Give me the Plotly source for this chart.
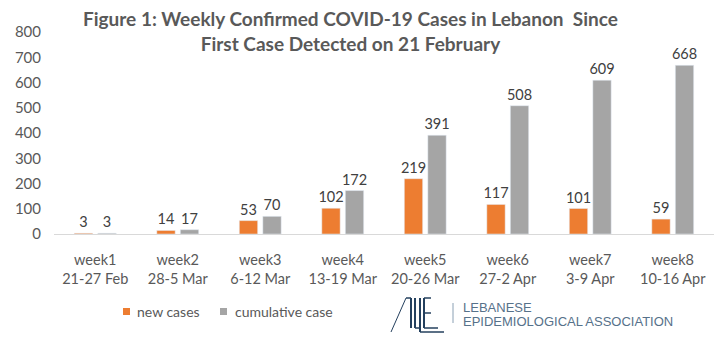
import plotly.graph_objects as go

weeks = ["week1", "week2", "week3", "week4", "week5", "week6", "week7", "week8"]
date_ranges = ["21-27 Feb", "28-5 Mar", "6-12 Mar", "13-19 Mar", "20-26 Mar", "27-2 Apr", "3-9 Apr", "10-16 Apr"]
new_cases = [3, 14, 53, 102, 219, 117, 101, 59]
cumulative_cases = [3, 17, 70, 172, 391, 508, 609, 668]
y_ticks = [0, 100, 200, 300, 400, 500, 600, 700, 800]
series_names = ["new cases", "cumulative case"]
series_colors = ["#ED7D31", "#A5A5A5"]

W, H = 720, 349
L, R, T, B = 54, 6, 32, 115
FONT = "Lato"
TXT = "#595959"

def px(x):
    return (x - L) / (W - L - R)

def py(y):
    return (H - B - y) / (H - T - B)

fig = go.Figure()
for name, vals, col in zip(series_names, [new_cases, cumulative_cases], series_colors):
    fig.add_trace(go.Bar(
        x=weeks, y=vals, name=name, marker_color=col,
        text=vals, textposition="outside", cliponaxis=False, constraintext="none",
        textfont=dict(family=FONT, size=14.5, color="#404040"),
        showlegend=False,
    ))

tick_text = [f"{w}<br>{d}" for w, d in zip(weeks, date_ranges)]

annotations = []
shapes = []

# Title
annotations.append(dict(
    x=px(350), xref="paper", y=py(31), yref="paper",
    text="<b>Figure 1: Weekly Confirmed COVID-19 Cases in Lebanon  Since<br>First Case Detected on 21 February</b>",
    showarrow=False, font=dict(family=FONT, size=19, color=TXT), align="center",
    xanchor="center", yanchor="middle"))

# Manual legend
legend_pos = [(123, 135), (220, 233)]
for (sx, tx), name, col in zip(legend_pos, series_names, series_colors):
    shapes.append(dict(type="rect", xref="paper", yref="paper",
                       x0=px(sx), x1=px(sx + 7), y0=py(308), y1=py(315),
                       fillcolor=col, line=dict(width=0)))
    annotations.append(dict(x=px(tx), xref="paper", y=py(311), yref="paper", text=name,
                            showarrow=False, font=dict(family=FONT, size=14, color=TXT),
                            xanchor="left", yanchor="middle"))

# Logo text
LOGO_TXT = "#56718a"
annotations.append(dict(x=px(461), xref="paper", y=py(307), yref="paper", text="LEBANESE",
                        showarrow=False, font=dict(family="Liberation Sans", size=13, color=LOGO_TXT),
                        xanchor="left", yanchor="middle"))
annotations.append(dict(x=px(461), xref="paper", y=py(321), yref="paper", text="EPIDEMIOLOGICAL ASSOCIATION",
                        showarrow=False, font=dict(family="Liberation Sans", size=13, color=LOGO_TXT),
                        xanchor="left", yanchor="middle"))

NAVY = "#24405e"
def line(x0, y0, x1, y1, color=NAVY, w=1.5):
    shapes.append(dict(type="line", xref="paper", yref="paper",
                       x0=px(x0), y0=py(y0), x1=px(x1), y1=py(y1),
                       line=dict(color=color, width=w)))
# stylized A
line(391, 332, 406, 298, w=1)
line(406, 298, 411, 298)
line(411, 298, 411, 328, w=2)
line(415, 298, 415, 328, w=2)
# L
line(415, 328, 419, 328)
line(420, 298, 420, 332, w=2)
line(420, 332, 444, 332)
# E
line(424, 298, 424, 328, w=2)
line(424, 298, 431, 298)
line(424, 313, 431, 313)
line(424, 328, 438, 328)
# separator
line(453, 303, 453, 323, color="#8aa0b4", w=1)

fig.update_layout(
    width=W, height=H,
    margin=dict(l=L, r=R, t=T, b=B),
    paper_bgcolor="white", plot_bgcolor="white",
    barmode="group", bargap=0.43, bargroupgap=0.22,
    showlegend=False,
    xaxis=dict(showgrid=False, showline=True, linecolor="#D9D9D9", linewidth=1,
               ticks="", tickvals=weeks, ticktext=tick_text,
               tickfont=dict(family=FONT, size=14.5, color=TXT), ticklabelstandoff=13),
    yaxis=dict(range=[0, 800], tickvals=y_ticks, showgrid=False, zeroline=False,
               showline=False, ticks="", tickfont=dict(family=FONT, size=15, color=TXT),
               ticklabelstandoff=12),
    annotations=annotations,
    shapes=shapes,
)

fig.write_html("out.html")
